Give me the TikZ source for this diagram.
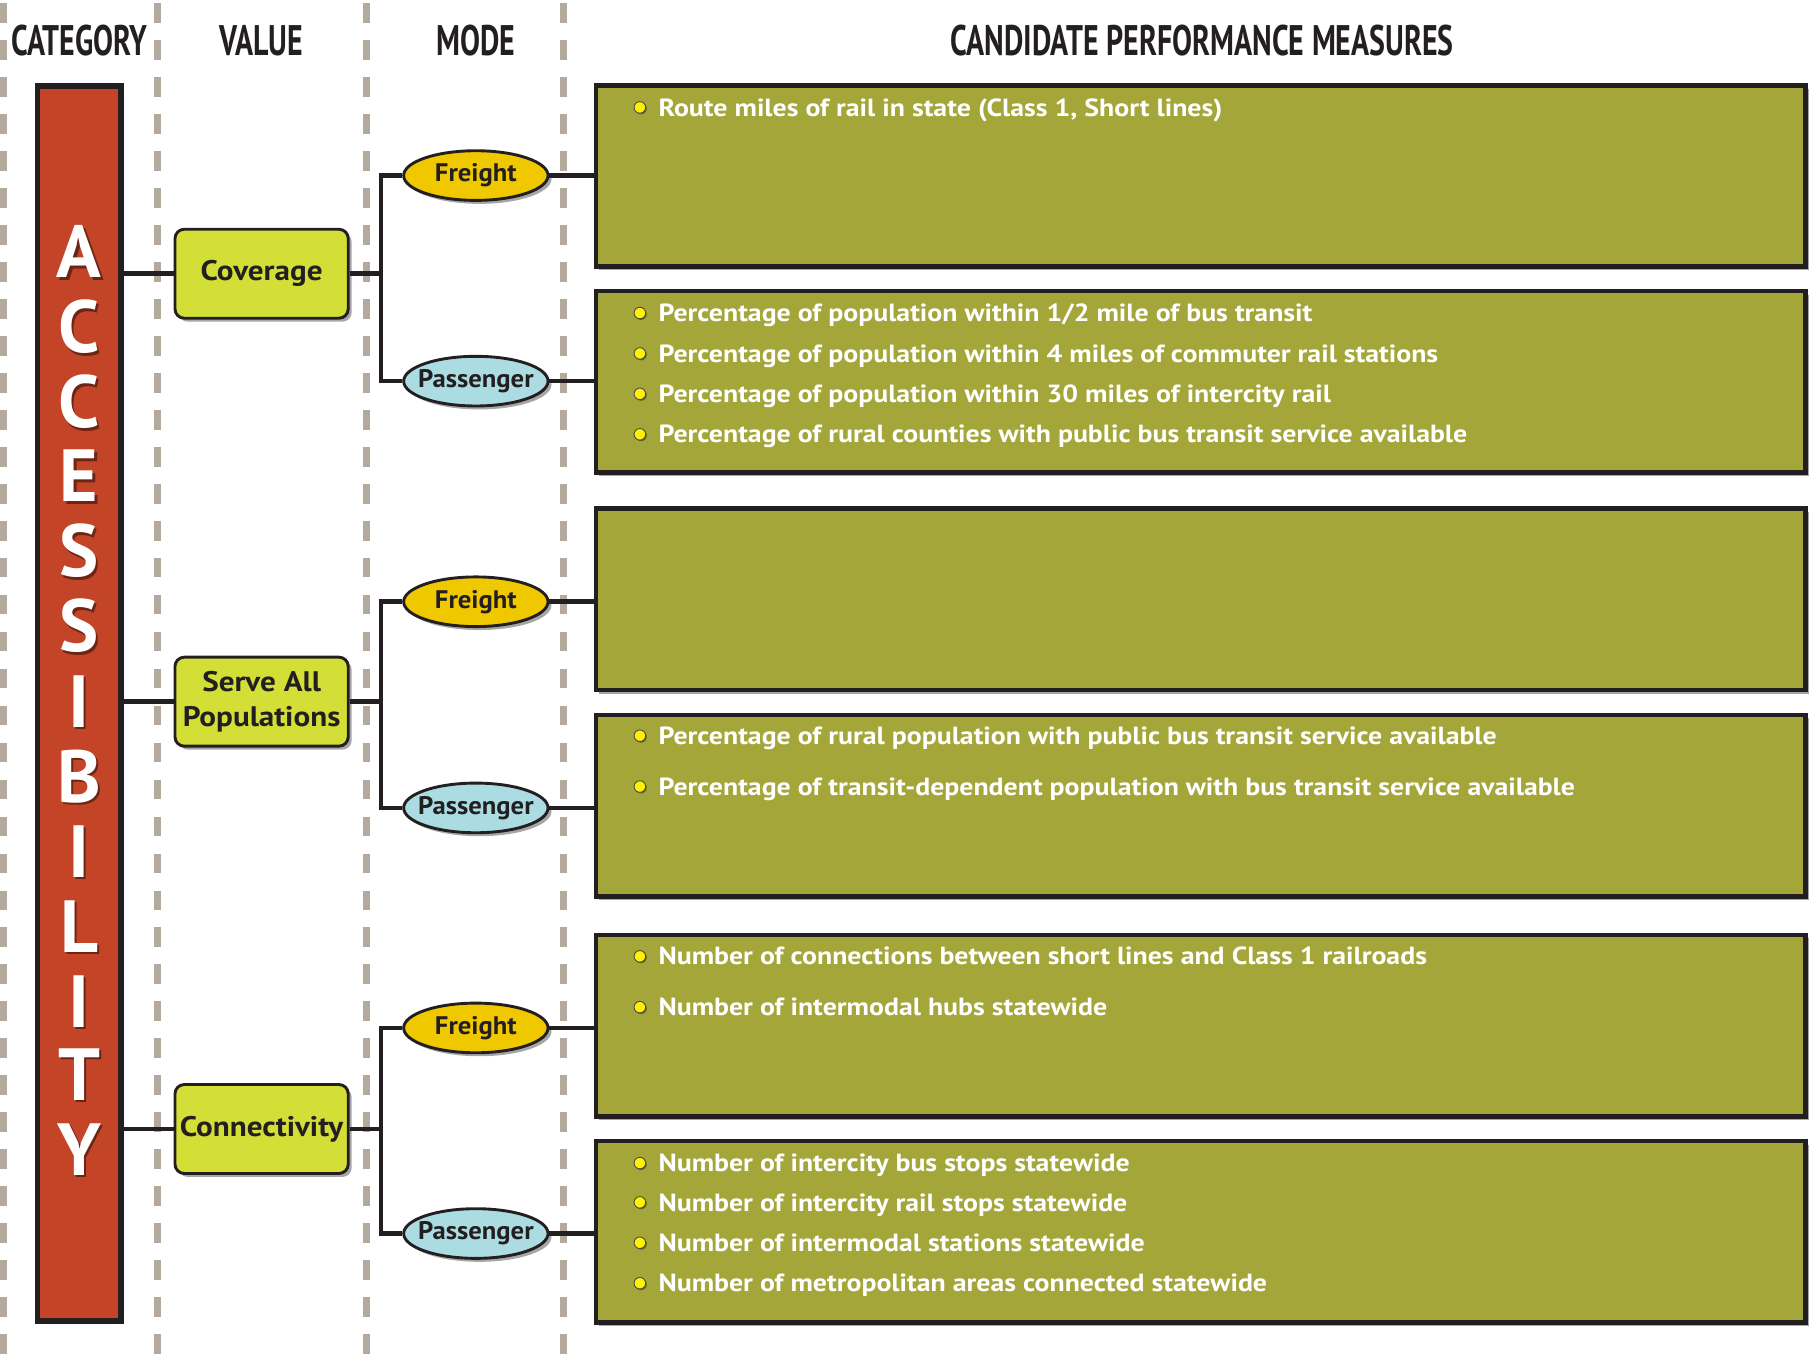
\documentclass[tikz,border=0pt]{standalone}
\usepackage{fontspec}
\setmainfont{PT Sans}
\newfontfamily\condfont[FakeStretch=0.70]{PT Sans}
\newfontfamily\mfont[FakeStretch=1.12]{PT Sans}
\newfontfamily\vfont[FakeStretch=1.10]{PT Sans}
\newfontfamily\efont[FakeStretch=1.05]{PT Sans}
\usetikzlibrary{shapes.geometric,shadows,calc}
\definecolor{ink}{HTML}{231F20}
\definecolor{dashc}{HTML}{B3A99D}
\definecolor{barred}{HTML}{C44428}
\definecolor{valgreen}{HTML}{D3DF37}
\definecolor{freightc}{HTML}{F0C800}
\definecolor{passc}{HTML}{AADCE2}
\definecolor{olivebox}{HTML}{A4A63A}
\definecolor{bulyellow}{HTML}{FFF200}
\begin{document}
\begin{tikzpicture}[x=1pt,y=-1pt,
  hdr/.style={font=\condfont\bfseries\fontsize{37}{40}\selectfont, text=ink, inner sep=0pt},
  dashline/.style={line width=6pt, draw=dashc, dash pattern=on 17pt off 15pt},
  shad/.style={drop shadow={shadow xshift=3pt, shadow yshift=-3pt, opacity=0.35, fill=black}},
  barbox/.style={draw=ink, line width=5pt, fill=barred, minimum width=72pt, minimum height=1069pt, inner sep=0pt, shad},
  valbox/.style={draw=ink, line width=2.5pt, fill=valgreen, rounded corners=8pt, minimum width=150pt, minimum height=77pt, align=center, font=\vfont\bfseries\fontsize{24.5}{30}\selectfont, text=ink, inner sep=2pt, shad},
  modeell/.style={ellipse, draw=ink, line width=2.5pt, minimum width=125pt, minimum height=43pt, inner xsep=-8pt, inner ysep=-1pt, font=\efont\bfseries\fontsize{22}{24}\selectfont, text=ink, shad},
  frt/.style={modeell, fill=freightc},
  pas/.style={modeell, fill=passc},
  measbox/.style={draw=ink, line width=4pt, fill=olivebox, minimum width=1047pt, minimum height=157pt, inner sep=0pt, shad},
  conn/.style={draw=ink, line width=4pt},
  bul/.style={circle, draw=ink!80, line width=0.8pt, fill=bulyellow, minimum size=10pt, inner sep=0pt, drop shadow={shadow xshift=1pt, shadow yshift=-1pt, opacity=0.4, fill=black}},
  mtext/.style={font=\mfont\bfseries\fontsize{21.5}{24}\selectfont, text=white, inner sep=0pt},
  letter/.style={font=\bfseries\fontsize{64}{70}\selectfont, text=white, inner sep=0pt},
  lettershad/.style={font=\bfseries\fontsize{64}{70}\selectfont, text=black, opacity=0.45, inner sep=0pt}
]
\useasboundingbox (0,0) rectangle (1568,1184);
\fill[white] (0,0) rectangle (1568,1184);

% dashed column separators
\foreach \x in {3,136,317,488} \draw[dashline] (\x,3) -- (\x,1184);

% headers
\node[hdr, anchor=base] (hcat) at (69,48) {CATEGORY};
\node[hdr, anchor=base] (hval) at (226,48) {VALUE};
\node[hdr, anchor=base] (hmode) at (412,48) {MODE};
\node[hdr, anchor=base] (hcpm) at (1041,48) {CANDIDATE PERFORMANCE MEASURES};

% category bar
\node[barbox] (bar) at (68.5,609) {};
\foreach [count=\i] \L/\yy in {A/218,C/283,C/348,E/412,S/477,S/542,I/607,B/672,I/737,L/802,I/867,T/930,Y/995} {
  \node[lettershad, anchor=base] (S\i) at (70.5,\yy+24.5) {\L};
  \node[letter, anchor=base] (L\i) at (68.5,\yy+22.5) {\L};
}

% value boxes
\node[valbox] (cov) at (226.5,237) {Coverage};
\node[valbox] (serve) at (226.5,607.5) {Serve All\\Populations};
\node[valbox] (conx) at (226.5,977.5) {Connectivity};

% mode ellipses
\node[frt] (fr1) at (412,152) {Freight};
\node[pas] (pa1) at (412,330) {Passenger};
\node[frt] (fr2) at (412,521) {Freight};
\node[pas] (pa2) at (412,699.5) {Passenger};
\node[frt] (fr3) at (412,890) {Freight};
\node[pas] (pa3) at (412,1068) {Passenger};

% measure boxes
\node[measbox] (m1) at (1039.5,152.5) {};
\node[measbox] (m2) at (1039.5,330.5) {};
\node[measbox] (m3) at (1039.5,519) {};
\node[measbox] (m4) at (1039.5,697.5) {};
\node[measbox] (m5) at (1039.5,888) {};
\node[measbox] (m6) at (1039.5,1066.5) {};

% connectors
\foreach \v/\f/\p/\m/\n in {cov/fr1/pa1/m1/m2, serve/fr2/pa2/m3/m4, conx/fr3/pa3/m5/m6} {
  \draw[conn] (bar.east |- \v.west) -- (\v.west);
  \draw[conn] (\v.east) -- ++(27,0) coordinate (j\v);
  \draw[conn, line join=miter] (\f.west) -| (j\v) |- (\p.west);
  \draw[conn] (\f.east) -- (\f.east -| \m.west);
  \draw[conn] (\p.east) -- (\p.east -| \n.west);
}

% measure texts
\foreach \id/\yy/\txt in {
  a1/93/{Route miles of rail in state (Class 1, Short lines)},
  b1/271/{Percentage of population within 1/2 mile of bus transit},
  b2/306/{Percentage of population within 4 miles of commuter rail stations},
  b3/341/{Percentage of population within 30 miles of intercity rail},
  b4/376/{Percentage of rural counties with public bus transit service available},
  d1/637/{Percentage of rural population with public bus transit service available},
  d2/681/{Percentage of transit-dependent population with bus transit service available},
  e1/828/{Number of connections between short lines and Class 1 railroads},
  e2/872/{Number of intermodal hubs statewide},
  f1/1007/{Number of intercity bus stops statewide},
  f2/1041/{Number of intercity rail stops statewide},
  f3/1076/{Number of intermodal stations statewide},
  f4/1111/{Number of metropolitan areas connected statewide}} {
  \node[bul] (bul\id) at (554,\yy) {};
  \node[mtext, anchor=base west] (txt\id) at (570,\yy+7.5) {\txt};
}
\end{tikzpicture}
\end{document}
